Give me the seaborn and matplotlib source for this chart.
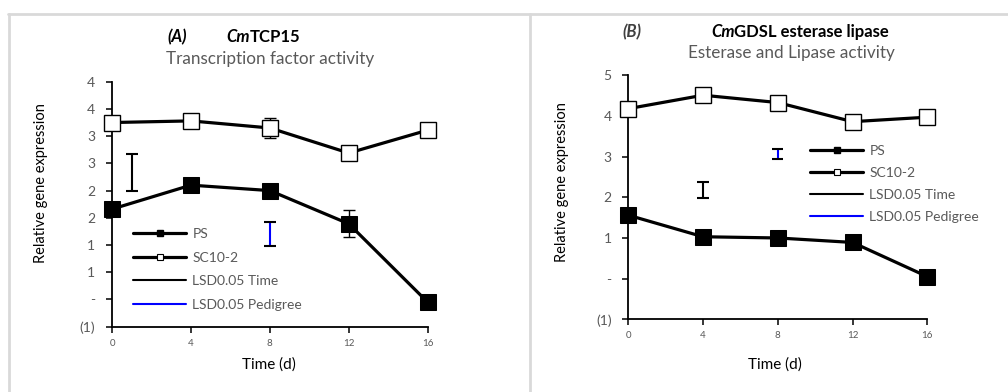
import matplotlib
matplotlib.use("Agg")
import matplotlib.pyplot as plt
from matplotlib.lines import Line2D
import seaborn as sns

sns.set_theme(style="white")
plt.rcParams['font.family'] = ['Lato', 'DejaVu Sans']

# ---------------- data ----------------
days = [0, 4, 8, 12, 16]

# Panel A: CmTCP15
a_ps = [1.66, 2.10, 2.00, 1.39, -0.05]
a_sc = [3.25, 3.28, 3.15, 2.69, 3.11]
a_ps_err = [0, 0, 0, 0.245, 0]
a_sc_err = [0, 0, 0.175, 0, 0]
a_lsd_time_x, a_lsd_time_lo, a_lsd_time_hi = 1.0, 2.0, 2.665
a_lsd_ped_x, a_lsd_ped_lo, a_lsd_ped_hi = 8.0, 0.99, 1.43
a_yticks = [-0.5, 0, 0.5, 1, 1.5, 2, 2.5, 3, 3.5, 4]
a_yticklabels = ["(1)", "-", "1", "1", "2", "2", "3", "3", "4", "4"]

# Panel B: CmGDSL esterase lipase
b_ps = [1.56, 1.03, 1.00, 0.89, 0.05]
b_sc = [4.18, 4.51, 4.33, 3.86, 3.97]
b_lsd_time_x, b_lsd_time_lo, b_lsd_time_hi = 4.0, 1.995, 2.38
b_lsd_ped_x, b_lsd_ped_lo, b_lsd_ped_hi = 8.0, 2.95, 3.20
b_yticks = [-1, 0, 1, 2, 3, 4, 5]
b_yticklabels = ["(1)", "-", "1", "2", "3", "4", "5"]

xticks = [0, 4, 8, 12, 16]
legend_labels = ["PS", "SC10-2", "LSD0.05 Time", "LSD0.05 Pedigree"]

GRAY = "#595959"
BORDER = "#d9d9d9"
W, H = 1008, 392

fig = plt.figure(figsize=(W / 100, H / 100), dpi=100)


def fx(px):
    return px / W


def fy(py):
    return 1 - py / H


# frame borders (Excel chart area outlines)
for (x0, y0, x1, y1) in [(8, 14, W, 14), (9, 14, 9, H), (530, 14, 530, H)]:
    fig.add_artist(Line2D([fx(x0), fx(x1)], [fy(y0), fy(y1)], color=BORDER, lw=2.0))


def panel(rect, ps, sc, ps_err, sc_err, ylim, yticks, yticklabels,
          lsd_t, lsd_p, ms, ylab_coords, xlab_coords):
    ax = fig.add_axes(rect)
    sns.lineplot(x=days, y=ps, ax=ax, color="black", lw=2.3, marker="s",
                 markersize=ms, markerfacecolor="black", markeredgecolor="black",
                 clip_on=False, zorder=3)
    sns.lineplot(x=days, y=sc, ax=ax, color="black", lw=2.3, marker="s",
                 markersize=ms, markerfacecolor="white", markeredgecolor="black",
                 markeredgewidth=1.0, clip_on=False, zorder=3)
    if ps_err is not None:
        for x, y, e in zip(days, ps, ps_err):
            if e > 0:
                ax.errorbar([x], [y], yerr=[e], fmt="none", ecolor="black",
                            elinewidth=1.0, capsize=4, capthick=1.0, zorder=2)
    if sc_err is not None:
        for x, y, e in zip(days, sc, sc_err):
            if e > 0:
                ax.errorbar([x], [y], yerr=[e], fmt="none", ecolor="black",
                            elinewidth=1.0, capsize=4, capthick=1.0, zorder=2)
    # LSD bars
    tx, tlo, thi = lsd_t
    ax.errorbar([tx], [(tlo + thi) / 2], yerr=[(thi - tlo) / 2], fmt="none",
                ecolor="black", elinewidth=1.5, capsize=4.5, capthick=1.5, zorder=4)
    px_, plo, phi = lsd_p
    ax.vlines(px_, plo, phi, color="#0000ff", lw=1.5, zorder=4)
    ax.hlines([plo, phi], px_ - 0.3, px_ + 0.3, color="black", lw=1.5, zorder=4)

    ax.set_xlim(0, 16)
    ax.set_ylim(*ylim)
    ax.set_xticks(xticks)
    ax.set_xticklabels([str(t) for t in xticks], fontsize=7, color=GRAY)
    ax.set_yticks(yticks)
    ax.set_yticklabels(yticklabels, fontsize=10, color=GRAY)
    ax.tick_params(axis="y", direction="out", length=4, width=1.1, color="black",
                   left=True, pad=8)
    ax.tick_params(axis="x", direction="out", length=4, width=1.1, color="black",
                   bottom=True, pad=4.5)
    for s in ["top", "right"]:
        ax.spines[s].set_visible(False)
    for s in ["left", "bottom"]:
        ax.spines[s].set_color("black")
        ax.spines[s].set_linewidth(1.3)
    ax.set_facecolor("none")
    ax.set_ylabel("Relative gene expression", fontsize=10.5, color="black")
    ax.yaxis.set_label_coords(*ylab_coords)
    ax.set_xlabel("Time (d)", fontsize=11, color="black")
    ax.xaxis.set_label_coords(*xlab_coords)
    return ax


def legend(ax, x_px, y_px, spacing):
    handles = [
        Line2D([], [], color="black", lw=2.3, marker="s", markersize=5,
               markerfacecolor="black", markeredgecolor="black"),
        Line2D([], [], color="black", lw=2.3, marker="s", markersize=5,
               markerfacecolor="white", markeredgecolor="black", markeredgewidth=0.8),
        Line2D([], [], color="black", lw=1.5),
        Line2D([], [], color="#0000ff", lw=1.5),
    ]
    leg = ax.legend(handles, legend_labels, loc="upper left",
                    bbox_to_anchor=(fx(x_px), fy(y_px)), bbox_transform=fig.transFigure,
                    frameon=False, fontsize=10, handlelength=3.85, handletextpad=0.43,
                    labelspacing=spacing, borderpad=0, borderaxespad=0)
    for t in leg.get_texts():
        t.set_color(GRAY)


# Panel A geometry
axA = panel([fx(112), fy(326.7), fx(427.7) - fx(112), fy(81.7) - fy(326.7)],
            a_ps, a_sc, a_ps_err, a_sc_err, (-0.5, 4), a_yticks, a_yticklabels,
            (a_lsd_time_x, a_lsd_time_lo, a_lsd_time_hi),
            (a_lsd_ped_x, a_lsd_ped_lo, a_lsd_ped_hi), 12,
            (-0.203, 0.587), (0.497, -0.124))
legend(axA, 133, 228, 0.83)

axB = panel([fx(628.3), fy(319.3), fx(927.3) - fx(628.3), fy(75.3) - fy(319.3)],
            b_ps, b_sc, None, None, (-1, 5), b_yticks, b_yticklabels,
            (b_lsd_time_x, b_lsd_time_lo, b_lsd_time_hi),
            (b_lsd_ped_x, b_lsd_ped_lo, b_lsd_ped_hi), 11,
            (-0.198, 0.563), (0.49, -0.154))
legend(axB, 810, 145, 0.72)


def title(x_lab, x_cm, y, letter, letter_color, gene, sub, x_sub, y_sub):
    fig.text(fx(x_lab), fy(y), letter, fontsize=12, fontweight="bold",
             fontstyle="italic", va="center", ha="left", color=letter_color)
    t = fig.text(fx(x_cm), fy(y), "Cm", fontsize=12, fontweight="bold",
                 fontstyle="italic", va="center", ha="left", color="black")
    axA.annotate(gene, xy=(1, 0), xycoords=t, va="bottom", ha="left",
                 fontsize=12, fontweight="bold", color="black", annotation_clip=False)
    fig.text(fx(x_sub), fy(y_sub), sub, fontsize=12.3, va="center", ha="left", color=GRAY)


title(167, 226, 37, "(A)", "black", "TCP15", "Transcription factor activity", 166, 59)
title(622, 711, 32, "(B)", "#404040", "GDSL esterase lipase", "Esterase and Lipase activity", 688, 53)

fig.savefig("out.png", dpi=100, facecolor="white")
